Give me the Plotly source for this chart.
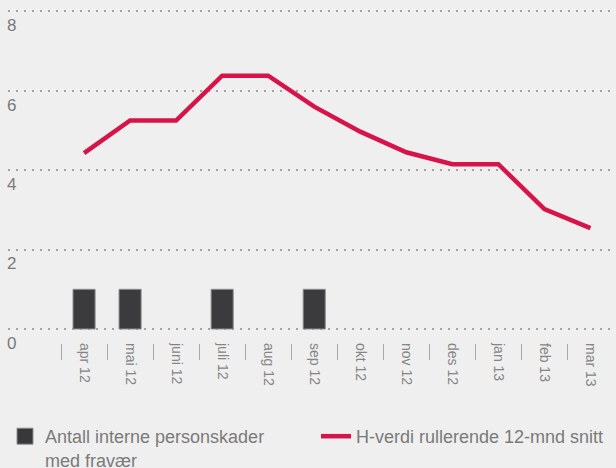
import plotly.graph_objects as go

months = ["apr 12", "mai 12", "juni 12", "juli 12", "aug 12", "sep 12",
          "okt 12", "nov 12", "des 12", "jan 13", "feb 13", "mar 13"]
injuries = [1, 1, 0, 1, 0, 1, 0, 0, 0, 0, 0, 0]
h_value = [4.43, 5.25, 5.25, 6.38, 6.38, 5.60, 4.97, 4.45, 4.15, 4.15, 3.02, 2.54]
y_ticks = [0, 2, 4, 6, 8]
y_ticktext = ["0", "2", "4", "6", "8"]

BG = "#efefef"
FONT = "Liberation Sans, Arial, sans-serif"
TXT = "#7a7a7a"
BAR_NAME = "Antall interne personskader<br>med fravær"
LINE_NAME = "H-verdi rullerende 12-mnd snitt"

fig = go.Figure()
fig.add_trace(go.Bar(
    x=months, y=[v if v else None for v in injuries],
    name=BAR_NAME, showlegend=False,
    width=0.48,
    marker=dict(color="#3b3b3d", line=dict(color="#8e8e8e", width=1)),
))
# legend entry for the bars (larger square symbol)
fig.add_trace(go.Scatter(
    x=[None], y=[None], mode="markers", name=BAR_NAME, legend="legend",
    marker=dict(symbol="square", size=20, color="#38383a", line=dict(color="#8e8e8e", width=1)),
))
fig.add_trace(go.Scatter(
    x=months, y=h_value, mode="lines",
    name=LINE_NAME, legend="legend2",
    line=dict(color="#d6144a", width=4.5),
))

H = 468
W = 616
ML, MR = 8, 3
PW = W - ML - MR
fig.update_layout(
    width=W, height=H,
    margin=dict(l=ML, r=MR, t=0, b=0, autoexpand=False),
    paper_bgcolor=BG, plot_bgcolor=BG,
    font=dict(family=FONT, color=TXT),
    showlegend=True,
    legend=dict(x=-3 / PW, xanchor="left", y=1 - 418 / H, yanchor="top",
                font=dict(size=18, color=TXT), bgcolor="rgba(0,0,0,0)", valign="top"),
    legend2=dict(x=(316 - ML) / PW, xanchor="left", y=1 - 418 / H, yanchor="top",
                 font=dict(size=18, color=TXT), bgcolor="rgba(0,0,0,0)", valign="top"),
    xaxis=dict(
        type="category", categoryorder="array", categoryarray=months,
        range=[-1.652, 11.49],
        anchor="free", position=1 - 343 / H,
        showline=False, showgrid=False, zeroline=False,
        ticks="outside", tickson="boundaries", ticklen=16, tickwidth=1.3, tickcolor="#a8a8a8",
        tickangle=90, tickfont=dict(size=14, color="#858585"),
        ticklabelstandoff=-1,
    ),
    yaxis=dict(
        domain=[1 - 356 / H, 1],
        range=[-0.68, 8.285],
        tickvals=y_ticks, ticktext=y_ticktext,
        showgrid=True, gridcolor="#a3a3a3", gridwidth=2, griddash="2px,6px",
        zeroline=False, showline=False, ticks="",
        ticklabelposition="inside bottom", ticklabelstandoff=-4, ticklabelshift=2,
        tickfont=dict(size=17, color=TXT),
    ),
)

fig.write_html("out.html",
               config={"displayModeBar": False},
               post_script="document.body.style.margin='0';"
                           "document.body.style.background='#efefef';")
